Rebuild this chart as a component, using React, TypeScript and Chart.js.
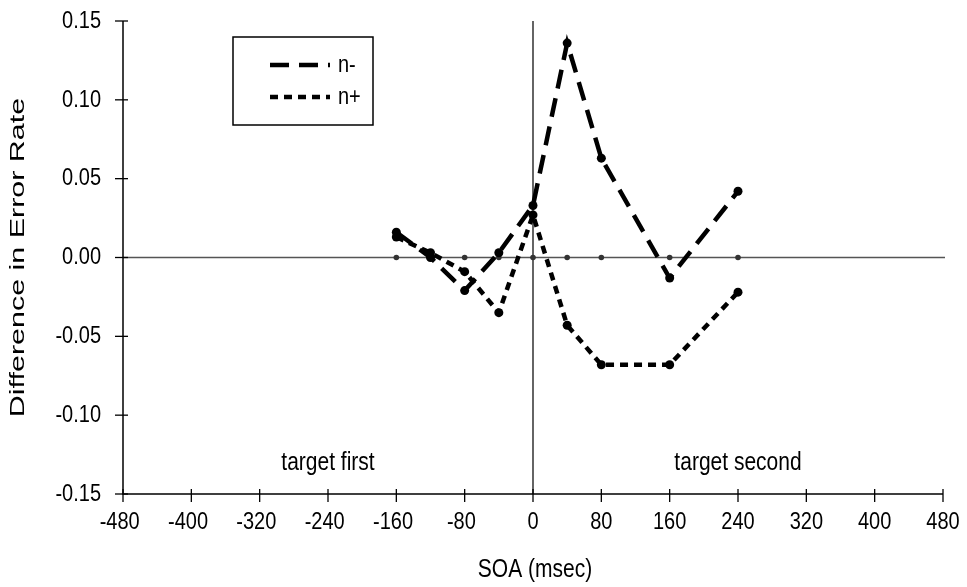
import React, { useEffect, useRef } from "react";
import { Chart, registerables } from "chart.js";

Chart.register(...registerables);

const soa = [-160, -120, -80, -40, 0, 40, 80, 160, 240];
const nMinus = [0.016, 0.0, -0.021, 0.003, 0.033, 0.136, 0.063, -0.013, 0.042];
const nPlus = [0.013, 0.003, -0.009, -0.035, 0.027, -0.043, -0.068, -0.068, -0.022];
const baseline = [0, 0, 0, 0, 0, 0, 0, 0, 0];
const xTicks = [-480, -400, -320, -240, -160, -80, 0, 80, 160, 240, 320, 400, 480];
const yTicks = [0.15, 0.1, 0.05, 0, -0.05, -0.1, -0.15];
const yTickLabels = ["0.15", "0.10", "0.05", "0.00", "-0.05", "-0.10", "-0.15"];
const seriesNames = ["n-", "n+"];
const regionLabels = [
  { text: "target first", x: -240, y: -0.13 },
  { text: "target second", x: 240, y: -0.13 },
];

const TICK_FONT = "20px 'Liberation Sans', Arial, sans-serif";
const TITLE_FONT = "21px 'Liberation Sans', Arial, sans-serif";
const STRETCH = 1.22;
const N_MINUS_DASH = [19, 10];
const N_PLUS_DASH = [8, 6];

function stretchedText(ctx: CanvasRenderingContext2D, text: string, x: number, y: number) {
  ctx.save();
  ctx.translate(x, y);
  ctx.scale(1, STRETCH);
  ctx.fillText(text, 0, 0);
  ctx.restore();
}

const axesPlugin = {
  id: "customAxes",
  beforeDatasetsDraw(chart: any) {
    const { ctx, chartArea, scales } = chart;
    const xs = scales.x;
    const ys = scales.y;
    ctx.save();
    const y0 = ys.getPixelForValue(0);
    ctx.strokeStyle = "#555";
    ctx.lineWidth = 1.5;
    ctx.beginPath();
    ctx.moveTo(chartArea.left, y0);
    ctx.lineTo(chartArea.right + 2, y0);
    ctx.stroke();
    const x0 = xs.getPixelForValue(0);
    ctx.strokeStyle = "#111";
    ctx.lineWidth = 1.3;
    ctx.beginPath();
    ctx.moveTo(x0, chartArea.top);
    ctx.lineTo(x0, chartArea.bottom);
    ctx.stroke();
    ctx.strokeStyle = "#000";
    ctx.lineWidth = 1.5;
    ctx.beginPath();
    ctx.moveTo(chartArea.left, chartArea.top);
    ctx.lineTo(chartArea.left, chartArea.bottom);
    ctx.lineTo(chartArea.right, chartArea.bottom);
    ctx.stroke();
    ctx.lineWidth = 1.3;
    yTicks.forEach((v) => {
      const py = ys.getPixelForValue(v);
      ctx.beginPath();
      ctx.moveTo(chartArea.left - 8, py);
      ctx.lineTo(chartArea.left + 5, py);
      ctx.stroke();
    });
    xTicks.forEach((v) => {
      const px = xs.getPixelForValue(v);
      ctx.beginPath();
      ctx.moveTo(px, chartArea.bottom - 5);
      ctx.lineTo(px, chartArea.bottom + 8);
      ctx.stroke();
    });
    ctx.restore();
  },
  afterDraw(chart: any) {
    const { ctx, chartArea, scales } = chart;
    const xs = scales.x;
    const ys = scales.y;
    ctx.save();
    ctx.fillStyle = "#000";
    ctx.font = TICK_FONT;
    ctx.textBaseline = "middle";
    ctx.textAlign = "right";
    yTicks.forEach((v, i) => {
      stretchedText(ctx, yTickLabels[i], chartArea.left - 22, ys.getPixelForValue(v));
    });
    // x tick labels: digits centred on tick, minus sign hanging to the left
    xTicks.forEach((v) => {
      const px = xs.getPixelForValue(v);
      const digits = String(Math.abs(v));
      const w = ctx.measureText(digits).width;
      ctx.textAlign = "center";
      stretchedText(ctx, digits, px, chartArea.bottom + 28);
      if (v < 0) {
        ctx.textAlign = "right";
        stretchedText(ctx, "-", px - w / 2, chartArea.bottom + 28);
      }
    });
    ctx.textAlign = "center";
    ctx.font = TITLE_FONT;
    regionLabels.forEach((r) => {
      stretchedText(ctx, r.text, xs.getPixelForValue(r.x), ys.getPixelForValue(r.y));
    });
    stretchedText(ctx, "SOA (msec)", (chartArea.left + chartArea.right) / 2 + 2, chartArea.bottom + 76);
    // y title
    ctx.save();
    ctx.translate(18, (chartArea.top + chartArea.bottom) / 2);
    ctx.rotate(-Math.PI / 2);
    ctx.scale(1.45, 1.0);
    ctx.fillText("Difference in Error Rate", 0, 0);
    ctx.restore();
    // legend box
    const bx = 233, by = 37, bw = 140, bh = 88;
    ctx.strokeStyle = "#000";
    ctx.lineWidth = 1.5;
    ctx.strokeRect(bx, by, bw, bh);
    const rows = [
      { y: 65, dash: N_MINUS_DASH, name: seriesNames[0] },
      { y: 97, dash: N_PLUS_DASH, name: seriesNames[1] },
    ];
    ctx.font = TICK_FONT;
    rows.forEach((r) => {
      ctx.setLineDash(r.dash);
      ctx.lineWidth = 4.5;
      ctx.beginPath();
      ctx.moveTo(270, r.y);
      ctx.lineTo(330, r.y);
      ctx.stroke();
      ctx.setLineDash([]);
      ctx.textAlign = "left";
      stretchedText(ctx, r.name, 338, r.y);
    });
    ctx.restore();
  },
};

export default function App() {
  const ref = useRef<HTMLCanvasElement | null>(null);
  useEffect(() => {
    document.body.style.margin = "0";
    if (!ref.current) return;
    const toPts = (ys: number[]) => soa.map((x, i) => ({ x, y: ys[i] }));
    const chart = new Chart(ref.current, {
      type: "line",
      data: {
        datasets: [
          {
            label: seriesNames[0],
            data: toPts(nMinus),
            borderColor: "#000",
            backgroundColor: "#000",
            borderWidth: 4.5,
            borderDash: N_MINUS_DASH,
            pointRadius: 4.5,
            pointBackgroundColor: "#000",
            pointBorderWidth: 0,
            tension: 0,
            clip: false,
          },
          {
            label: seriesNames[1],
            data: toPts(nPlus),
            borderColor: "#000",
            backgroundColor: "#000",
            borderWidth: 4.5,
            borderDash: N_PLUS_DASH,
            pointRadius: 4.5,
            pointBackgroundColor: "#000",
            pointBorderWidth: 0,
            tension: 0,
            clip: false,
          },
          {
            label: "baseline",
            data: toPts(baseline),
            borderColor: "rgba(0,0,0,0)",
            showLine: false,
            pointRadius: 2.8,
            pointBackgroundColor: "#333",
            pointBorderWidth: 0,
            clip: false,
          },
        ],
      },
      options: {
        animation: false,
        responsive: false,
        layout: { padding: { left: 123, right: 24, top: 21, bottom: 93 } },
        plugins: { legend: { display: false }, tooltip: { enabled: false } },
        scales: {
          x: { type: "linear", min: -480, max: 480, display: false },
          y: { type: "linear", min: -0.15, max: 0.15, display: false },
        },
      },
      plugins: [axesPlugin],
    });
    return () => chart.destroy();
  }, []);
  return (
    <div style={{ width: 967, height: 587 }}>
      <canvas ref={ref} width={967} height={587} style={{ display: "block" }} />
    </div>
  );
}
